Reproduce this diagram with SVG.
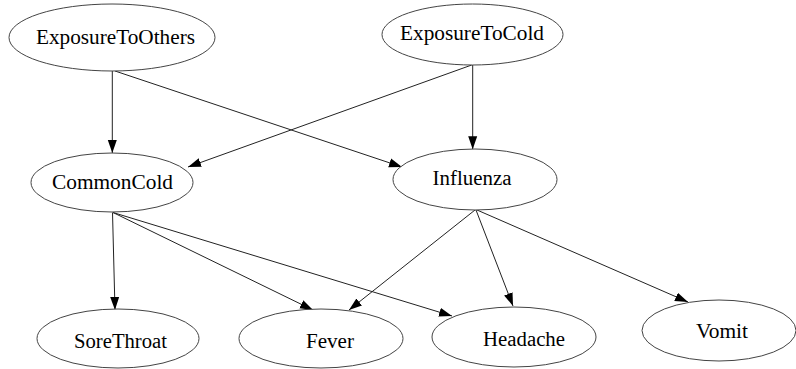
<svg xmlns="http://www.w3.org/2000/svg" width="796" height="369" viewBox="0 0 796 369">
<style>
.node ellipse{fill:#fff;stroke:#444;stroke-width:1}
.node text{font-size:20px;fill:#000;text-anchor:middle}
#edges line{stroke:#222;stroke-width:1;marker-end:url(#arr)}
</style>
<defs>
<marker id="arr" markerUnits="userSpaceOnUse" markerWidth="13" markerHeight="10" refX="13" refY="4.5" orient="auto" viewBox="0 0 13 9">
<path d="M0,0 L13,4.5 L0,9 z" fill="#000"/>
</marker>
</defs>
<rect width="796" height="369" fill="#fff"/>
<g id="edges">
<line x1="112.3" y1="71" x2="112.3" y2="153"/>
<line x1="115" y1="71" x2="402" y2="167"/>
<line x1="471.7" y1="65" x2="188" y2="167"/>
<line x1="472.7" y1="65" x2="472.7" y2="149.3"/>
<line x1="112.5" y1="212.5" x2="115" y2="310"/>
<line x1="113" y1="212.5" x2="313" y2="310"/>
<line x1="113" y1="212.5" x2="452" y2="316"/>
<line x1="475" y1="210" x2="349" y2="310"/>
<line x1="476" y1="210" x2="513" y2="306"/>
<line x1="477" y1="210" x2="688" y2="302"/>
</g>
<g font-family="Liberation Serif, DejaVu Serif, serif">
<g id="ExposureToOthers" class="node"><ellipse cx="112" cy="37.5" rx="103" ry="33.5"/><text x="115.5" y="43.5" textLength="159" lengthAdjust="spacingAndGlyphs">ExposureToOthers</text></g>
<g id="ExposureToCold" class="node"><ellipse cx="472.5" cy="34.5" rx="90.5" ry="30.5"/><text x="472" y="40" textLength="144" lengthAdjust="spacingAndGlyphs">ExposureToCold</text></g>
<g id="CommonCold" class="node"><ellipse cx="112" cy="182.5" rx="81" ry="29.5"/><text x="112.5" y="188.5" textLength="121" lengthAdjust="spacingAndGlyphs">CommonCold</text></g>
<g id="Influenza" class="node"><ellipse cx="475" cy="179.5" rx="82" ry="30.5"/><text x="472" y="185" textLength="79" lengthAdjust="spacingAndGlyphs">Influenza</text></g>
<g id="SoreThroat" class="node"><ellipse cx="118" cy="338.5" rx="81" ry="29.5"/><text x="120.5" y="348.3" textLength="93" lengthAdjust="spacingAndGlyphs">SoreThroat</text></g>
<g id="Fever" class="node"><ellipse cx="321" cy="338.5" rx="82" ry="29.5"/><text x="330" y="348" textLength="48" lengthAdjust="spacingAndGlyphs">Fever</text></g>
<g id="Headache" class="node"><ellipse cx="514" cy="337" rx="82" ry="30"/><text x="524" y="345.7" textLength="82" lengthAdjust="spacingAndGlyphs">Headache</text></g>
<g id="Vomit" class="node"><ellipse cx="719" cy="330.5" rx="77" ry="30.5"/><text x="722" y="337.7" textLength="52" lengthAdjust="spacingAndGlyphs">Vomit</text></g>
</g>
</svg>
